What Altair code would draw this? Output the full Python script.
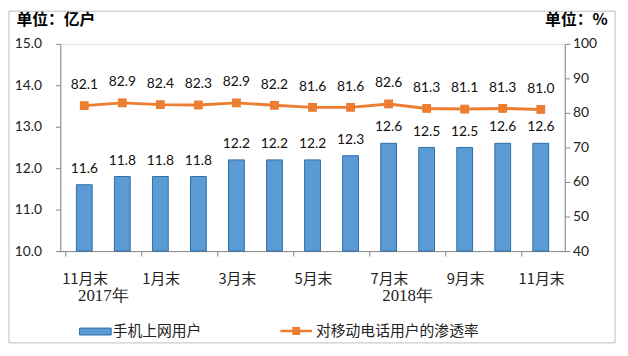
import json
import altair as alt
import pandas as pd

# ---- data ----
months = ["11月末", "12月末", "1月末", "2月末", "3月末", "4月末", "5月末",
          "6月末", "7月末", "8月末", "9月末", "10月末", "11月末"]
users = [11.6, 11.8, 11.8, 11.8, 12.2, 12.2, 12.2, 12.3, 12.6, 12.5, 12.5, 12.6, 12.6]
rate = [82.1, 82.9, 82.4, 82.3, 82.9, 82.2, 81.6, 81.6, 82.6, 81.3, 81.1, 81.3, 81.0]
years = ["2017年", "2018年"]
year_pos = [0.5, 8.5]
left_ticks = [10, 11, 12, 13, 14, 15]
right_ticks = [40, 50, 60, 70, 80, 90, 100]
series_bar = "手机上网用户"
series_line = "对移动电话用户的渗透率"

BLUE = "#5B9BD5"
BLUE_EDGE = "#2E6DA4"
ORANGE = "#ED7D31"
AXIS = "#868686"
NUM_FONT = "Lato"
CJK_FONT = "Noto Sans CJK SC"

n = len(months)
df = pd.DataFrame({
    "idx": list(range(n)),
    "month": months,
    "users": users,
    "rate": rate,
    "s1": [series_bar] * n,
    "s2": [series_line] * n,
})
ydf = pd.DataFrame({"year": years, "pos": year_pos})

shown = [m if i % 2 == 0 else "" for i, m in enumerate(months)]
label_expr = f"({json.dumps(shown, ensure_ascii=False)})[round(datum.value + 0.5)] || ''"

x_enc = alt.X(
    "idx:Q",
    scale=alt.Scale(domain=[-0.5, n - 0.5], nice=False, zero=False),
    axis=alt.Axis(
        values=[i - 0.5 for i in range(n + 1)],
        labelExpr=label_expr,
        labelOffset=19.65,
        labelFlush=False,
        labelOverlap=False,
        labelBound=False,
        labelFont=CJK_FONT,
        labelFontSize=15,
        labelColor="#222222",
        labelPadding=16,
        tickSize=5,
        tickColor=AXIS,
        domainColor=AXIS,
        grid=False,
        title=None,
    ),
)

y_left = alt.Y(
    "users:Q",
    scale=alt.Scale(domain=[10, 15], nice=False, zero=False),
    axis=alt.Axis(
        values=left_ticks,
        format=".1f",
        orient="left",
        labelFont=NUM_FONT,
        labelFontSize=14,
        labelColor="#222222",
        labelPadding=14,
        tickSize=5,
        tickColor=AXIS,
        domainColor=AXIS,
        grid=False,
        title="单位：亿户",
        titleAngle=0,
        titleAlign="left",
        titleBaseline="middle",
        titleX=-45,
        titleY=-25,
        titleFont=CJK_FONT,
        titleFontSize=16,
        titleFontWeight="bold",
        titleColor="#000000",
    ),
)

y_right = alt.Y(
    "rate:Q",
    scale=alt.Scale(domain=[40, 100], nice=False, zero=False),
    axis=alt.Axis(
        values=right_ticks,
        orient="right",
        labelFont=NUM_FONT,
        labelFontSize=14,
        labelColor="#222222",
        labelPadding=3,
        tickSize=5,
        tickColor=AXIS,
        domainColor=AXIS,
        grid=False,
        title="单位：%",
        titleAngle=0,
        titleAlign="right",
        titleBaseline="middle",
        titleX=43,
        titleY=-25,
        titleFont=CJK_FONT,
        titleFontSize=16,
        titleFontWeight="bold",
        titleColor="#000000",
    ),
)

bars = alt.Chart(df).mark_bar(size=16, stroke=BLUE_EDGE, strokeWidth=1).encode(
    x=x_enc,
    y=y_left,
    y2=alt.datum(left_ticks[0]),
    color=alt.Color(
        "s1:N",
        scale=alt.Scale(range=[BLUE]),
        legend=alt.Legend(
            title=None,
            orient="none",
            legendX=25,
            legendY=281,
            padding=0,
            symbolType="M-1.6,-0.35 H1.6 V0.35 H-1.6 Z",
            symbolSize=400,
            symbolStrokeColor=BLUE_EDGE,
            symbolStrokeWidth=1,
            labelFont=CJK_FONT,
            labelFontSize=15,
            labelColor="#222222",
            labelOffset=7,
            labelLimit=0,
        ),
    ),
)
bar_text = alt.Chart(df).mark_text(
    font=NUM_FONT, fontSize=14, color="#111111", baseline="middle", dy=-16
).encode(x=x_enc, y=y_left, text=alt.Text("users:Q", format=".1f"))

left = alt.layer(bars, bar_text)

line = alt.Chart(df).mark_line(color=ORANGE, strokeWidth=3).encode(x=x_enc, y=y_right)
pts = alt.Chart(df).mark_point(shape="square", size=80, filled=True, opacity=1).encode(
    x=x_enc,
    y=y_right,
    color=alt.Color(
        "s2:N",
        scale=alt.Scale(range=[ORANGE]),
        legend=alt.Legend(
            title=None,
            orient="none",
            legendX=229,
            legendY=281,
            padding=0,
            symbolType="M-1.6,-0.13 H1.6 V0.13 H-1.6 Z M-0.4,-0.4 H0.4 V0.4 H-0.4 Z",
            symbolSize=400,
            symbolFillColor=ORANGE,
            symbolStrokeWidth=0,
            labelFont=CJK_FONT,
            labelFontSize=15,
            labelColor="#222222",
            labelOffset=10,
            labelLimit=0,
        ),
    ),
)
line_text = alt.Chart(df).mark_text(
    font=NUM_FONT, fontSize=14, color="#111111", baseline="middle", dy=-21
).encode(x=x_enc, y=y_right, text=alt.Text("rate:Q", format=".1f"))

right = alt.layer(line, pts, line_text)

year_text = alt.Chart(ydf).mark_text(
    font="Liberation Serif", fontSize=17, color="#222222", baseline="middle"
).encode(x=alt.X("pos:Q"), y=alt.value(256), text="year:N")

border = alt.Chart(alt.Data(values=[{"a": 1}])).mark_rect(
    fillOpacity=0, stroke="#BFBFBF", strokeWidth=1
).encode(x=alt.value(-52), x2=alt.value(562), y=alt.value(-33), y2=alt.value(303))

chart = alt.layer(left, right, year_text, border).resolve_scale(
    y="independent", color="independent"
).properties(
    width=511,
    height=210,
    autosize=alt.AutoSizeParams(type="none"),
    padding={"left": 53, "top": 34, "right": 56, "bottom": 104},
).configure_view(stroke=None).configure(background="white")

chart.save("out.html", embed_options={"renderer": "svg", "actions": False})
